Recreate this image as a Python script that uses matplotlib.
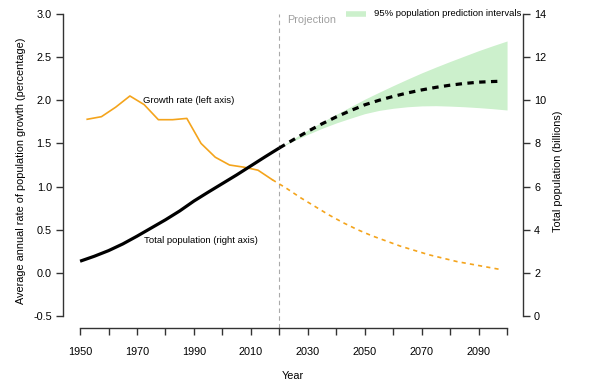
import matplotlib
matplotlib.use("Agg")
import matplotlib.pyplot as plt
import numpy as np

plt.rcParams['font.family'] = ['Liberation Sans', 'DejaVu Sans']

# Growth rate (left axis), 5-year period midpoints
rate_years = [1952.5, 1957.5, 1962.5, 1967.5, 1972.5, 1977.5, 1982.5, 1987.5,
              1992.5, 1997.5, 2002.5, 2007.5, 2012.5, 2017.5]
rate_vals = [1.78, 1.81, 1.92, 2.05, 1.95, 1.775, 1.775, 1.79,
             1.50, 1.34, 1.25, 1.225, 1.19, 1.08]
rate_proj_years = [2017.5, 2022.5, 2027.5, 2032.5, 2037.5, 2042.5, 2047.5, 2052.5,
                   2057.5, 2062.5, 2067.5, 2072.5, 2077.5, 2082.5, 2087.5, 2092.5, 2097.5]
rate_proj_vals = [1.08, 0.98, 0.87, 0.77, 0.67, 0.58, 0.50, 0.43,
                  0.37, 0.31, 0.26, 0.21, 0.17, 0.13, 0.10, 0.07, 0.04]

# Total population (right axis), billions
pop_years = [1950, 1955, 1960, 1965, 1970, 1975, 1980, 1985, 1990, 1995,
             2000, 2005, 2010, 2015, 2020]
pop_vals = [2.54, 2.77, 3.03, 3.34, 3.70, 4.08, 4.46, 4.87, 5.33, 5.74,
            6.14, 6.54, 6.96, 7.38, 7.79]
proj_years = [2020, 2025, 2030, 2035, 2040, 2045, 2050, 2055, 2060, 2065,
              2070, 2075, 2080, 2085, 2090, 2095, 2100]
proj_median = [7.79, 8.18, 8.56, 8.91, 9.23, 9.52, 9.79, 10.0, 10.18, 10.34,
               10.48, 10.60, 10.70, 10.78, 10.84, 10.87, 10.89]
proj_lower = [7.79, 8.12, 8.42, 8.70, 8.95, 9.17, 9.38, 9.53, 9.63, 9.70,
              9.74, 9.75, 9.73, 9.70, 9.66, 9.61, 9.55]
proj_upper = [7.79, 8.22, 8.62, 8.99, 9.35, 9.70, 10.05, 10.37, 10.68, 10.98,
              11.27, 11.54, 11.80, 12.05, 12.30, 12.53, 12.75]

x_ticks = list(range(1950, 2101, 10))
x_labels = [str(y) if (y - 1950) % 20 == 0 and y < 2100 else '' for y in x_ticks]
left_ticks = [-0.5, 0.0, 0.5, 1.0, 1.5, 2.0, 2.5, 3.0]
right_ticks = [0, 2, 4, 6, 8, 10, 12, 14]

W, H = 609, 390
fig = plt.figure(figsize=(W / 100, H / 100), dpi=100)
ax = fig.add_axes([63 / W, (H - 328) / H, (523 - 63) / W, (328 - 14) / H])
ax2 = ax.twinx()

orange = '#F4A41C'
green = '#CCF0CC'

ax.set_xlim(1944.0, 2105.6)
ax.set_ylim(-0.639, 3.0)
ax2.set_ylim(-0.556, 14.0)

ax2.fill_between(proj_years, proj_lower, proj_upper, color=green, lw=0, zorder=1)
ax.plot(rate_years, rate_vals, color=orange, lw=1.2, zorder=3)
ax.plot(rate_proj_years, rate_proj_vals, color=orange, lw=1.2,
        linestyle=(0, (2.5, 2.5)), zorder=3)
ax2.plot(pop_years, pop_vals, color='black', lw=2.3, zorder=4, solid_capstyle='butt')
ax2.plot(proj_years[:-1] + [2097.5], proj_median[:-1] + [10.88], color='black', lw=2.3,
         linestyle=(0, (2.0, 1.7)), zorder=4)

ax.axvline(2020, color='#AAAAAA', lw=0.8, linestyle=(0, (4, 3)), ymin=0, ymax=1, zorder=2)

for a in (ax, ax2):
    a.spines['top'].set_visible(False)
    a.patch.set_visible(False)
ax.spines['right'].set_visible(False)
ax2.spines['left'].set_visible(False)
ax2.spines['bottom'].set_visible(False)
ax.spines['left'].set_bounds(-0.5, 3.0)
ax.spines['bottom'].set_bounds(1950, 2100)
ax2.spines['right'].set_bounds(0, 14)
for sp in (ax.spines['left'], ax.spines['bottom'], ax2.spines['right']):
    sp.set_color('#333333')
    sp.set_linewidth(1.0)

ax.set_xticks(x_ticks)
ax.set_xticklabels(x_labels)
ax.set_yticks(left_ticks)
ax.set_yticklabels([f'{v:.1f}' for v in left_ticks])
ax2.set_yticks(right_ticks)
ax2.set_yticklabels([str(v) for v in right_ticks])

ax.tick_params(axis='x', length=5, width=1.0, color='#333333', labelsize=7.8, pad=9)
ax.tick_params(axis='y', length=5, width=1.0, color='#333333', labelsize=7.8, pad=3)
ax2.tick_params(axis='y', length=5, width=1.0, color='#333333', labelsize=7.8, pad=3)

ax.set_xlabel('Year', fontsize=7.8, labelpad=10)
ax.set_ylabel('Average annual rate of population growth (percentage)', fontsize=7.8, labelpad=5)
ax2.set_ylabel('Total population (billions)', fontsize=7.8, labelpad=5)

ax.text(2022.8, 2.93, 'Projection', color='#A0A0A0', fontsize=7.8, va='center', ha='left')
ax.text(1972, 2.0, 'Growth rate (left axis)', fontsize=6.8, va='center', ha='left')
ax.text(1972.5, 0.37, 'Total population (right axis)', fontsize=6.8, va='center', ha='left')

# legend
ax.plot([2043.5, 2050.5], [3.0, 3.0], color=green, lw=4, solid_capstyle='butt', clip_on=False)
ax.text(2053.3, 3.0, '95% population prediction intervals', fontsize=6.8, va='center', ha='left')

fig.savefig('out.png', dpi=100)
